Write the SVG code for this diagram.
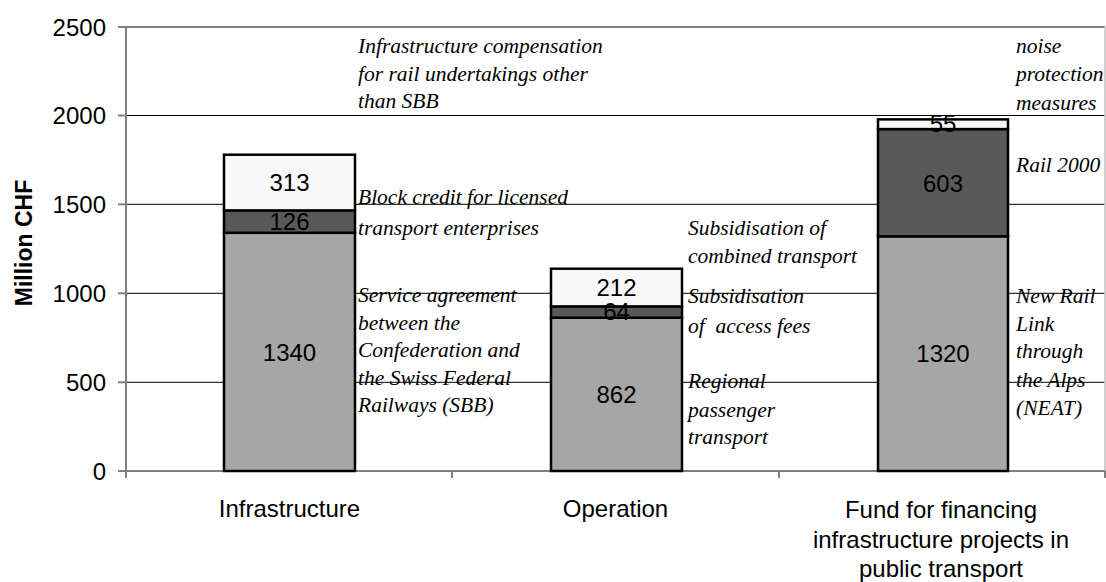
<svg xmlns="http://www.w3.org/2000/svg" width="1106" height="582" viewBox="0 0 1106 582">
  <style>
    .grid { stroke: #000; stroke-width: 1; }
    .axis { stroke: #808080; stroke-width: 2; fill: none; }
    .bar { stroke: #000; stroke-width: 2.5; }
    .base { fill: #a6a6a6; }
    .mid { fill: #595959; }
    .top { fill: #f8f8f8; }
    .val { font-family: "Liberation Sans", Arial, sans-serif; font-size: 24px; fill: #000; text-anchor: middle; }
    .tick { font-family: "Liberation Sans", Arial, sans-serif; font-size: 24px; fill: #000; text-anchor: end; }
    .cat { font-family: "Liberation Sans", Arial, sans-serif; font-size: 24px; fill: #000; text-anchor: middle; }
    .note { font-family: "Liberation Serif", "Times New Roman", serif; font-style: italic; font-size: 21.5px; fill: #000; }
    .ytitle { font-family: "Liberation Sans", Arial, sans-serif; font-size: 23px; font-weight: bold; fill: #000; text-anchor: middle; }
  </style>
  <rect x="0" y="0" width="1106" height="582" fill="#fff"/>

  <g id="gridlines">
    <line class="grid" x1="126" y1="115.5" x2="1105" y2="115.5"/>
    <line class="grid" x1="126" y1="204.3" x2="1105" y2="204.3"/>
    <line class="grid" x1="126" y1="293.3" x2="1105" y2="293.3"/>
    <line class="grid" x1="126" y1="382.3" x2="1105" y2="382.3"/>
  </g>

  <g id="axes">
    <line class="axis" x1="126" y1="27" x2="1105" y2="27"/>
    <line x1="1105" y1="27" x2="1105" y2="471" stroke="#c0c0c0" stroke-width="1.5"/>
    <line class="axis" x1="126" y1="27" x2="126" y2="478"/>
    <line class="axis" x1="126" y1="471" x2="1105" y2="471"/>
    <line class="axis" x1="118" y1="27" x2="126" y2="27"/>
    <line class="axis" x1="118" y1="115.5" x2="126" y2="115.5"/>
    <line class="axis" x1="118" y1="204.3" x2="126" y2="204.3"/>
    <line class="axis" x1="118" y1="293.3" x2="126" y2="293.3"/>
    <line class="axis" x1="118" y1="382.3" x2="126" y2="382.3"/>
    <line class="axis" x1="118" y1="471" x2="126" y2="471"/>
    <line class="axis" x1="452" y1="471" x2="452" y2="478"/>
    <line class="axis" x1="779" y1="471" x2="779" y2="478"/>
    <line class="axis" x1="1105" y1="471" x2="1105" y2="478"/>
  </g>

  <g id="tick-labels">
    <text class="tick" x="106" y="36">2500</text>
    <text class="tick" x="106" y="124.2">2000</text>
    <text class="tick" x="106" y="213">1500</text>
    <text class="tick" x="106" y="302">1000</text>
    <text class="tick" x="106" y="391">500</text>
    <text class="tick" x="106" y="479.7">0</text>
  </g>

  <text id="y-title" class="ytitle" transform="translate(31.5,243) rotate(-90)">Million CHF</text>

  <g id="bar-infrastructure">
    <rect class="bar base" x="224" y="232.8" width="131" height="238.2"/>
    <rect class="bar mid" x="224" y="210.4" width="131" height="22.4"/>
    <rect class="bar top" x="224" y="154.7" width="131" height="55.7"/>
    <text class="val" x="289.5" y="360.5">1340</text>
    <text class="val" x="289.5" y="230.2">126</text>
    <text class="val" x="289.5" y="191.2">313</text>
  </g>

  <g id="bar-operation">
    <rect class="bar base" x="551" y="317.7" width="131" height="153.3"/>
    <rect class="bar mid" x="551" y="306.4" width="131" height="11.3"/>
    <rect class="bar top" x="551" y="268.7" width="131" height="37.7"/>
    <text class="val" x="616.5" y="403">862</text>
    <text class="val" x="616.5" y="319.5">64</text>
    <text class="val" x="616.5" y="295.5">212</text>
  </g>

  <g id="bar-fund">
    <rect class="bar base" x="878" y="236.3" width="130" height="234.7"/>
    <rect class="bar mid" x="878" y="129.1" width="130" height="107.2"/>
    <rect class="bar top" x="878" y="119.4" width="130" height="9.7"/>
    <text class="val" x="943" y="362.3">1320</text>
    <text class="val" x="943" y="191.5">603</text>
    <text class="val" x="943" y="132">55</text>
  </g>

  <g id="annotations">
    <text class="note" x="358" y="53.3">Infrastructure compensation</text>
    <text class="note" x="358" y="81">for rail undertakings other</text>
    <text class="note" x="358" y="108.3">than SBB</text>

    <text class="note" x="358" y="203.5">Block credit for licensed</text>
    <text class="note" x="358" y="235">transport enterprises</text>

    <text class="note" x="358" y="302">Service agreement</text>
    <text class="note" x="358" y="330">between the</text>
    <text class="note" x="358" y="357.3">Confederation and</text>
    <text class="note" x="358" y="384.5">the Swiss Federal</text>
    <text class="note" x="358" y="412">Railways (SBB)</text>

    <text class="note" x="688" y="235">Subsidisation of</text>
    <text class="note" x="688" y="262.7">combined transport</text>

    <text class="note" x="688" y="302.7">Subsidisation</text>
    <text class="note" x="688" y="332.7" xml:space="preserve">of  access fees</text>

    <text class="note" x="688" y="388.3">Regional</text>
    <text class="note" x="688" y="416.7">passenger</text>
    <text class="note" x="688" y="444">transport</text>

    <text class="note" x="1016" y="53.3">noise</text>
    <text class="note" x="1016" y="81">protection</text>
    <text class="note" x="1016" y="110">measures</text>

    <text class="note" x="1016" y="171.7">Rail 2000</text>

    <text class="note" x="1016" y="303.3">New Rail</text>
    <text class="note" x="1016" y="330.7">Link</text>
    <text class="note" x="1016" y="358.3">through</text>
    <text class="note" x="1016" y="386.7">the Alps</text>
    <text class="note" x="1016" y="415">(NEAT)</text>
  </g>

  <g id="category-labels">
    <text class="cat" x="289.5" y="517">Infrastructure</text>
    <text class="cat" x="615.5" y="517">Operation</text>
    <text class="cat" x="941" y="518.3">Fund for financing</text>
    <text class="cat" x="941" y="548">infrastructure projects in</text>
    <text class="cat" x="941" y="577.3">public transport</text>
  </g>
</svg>
